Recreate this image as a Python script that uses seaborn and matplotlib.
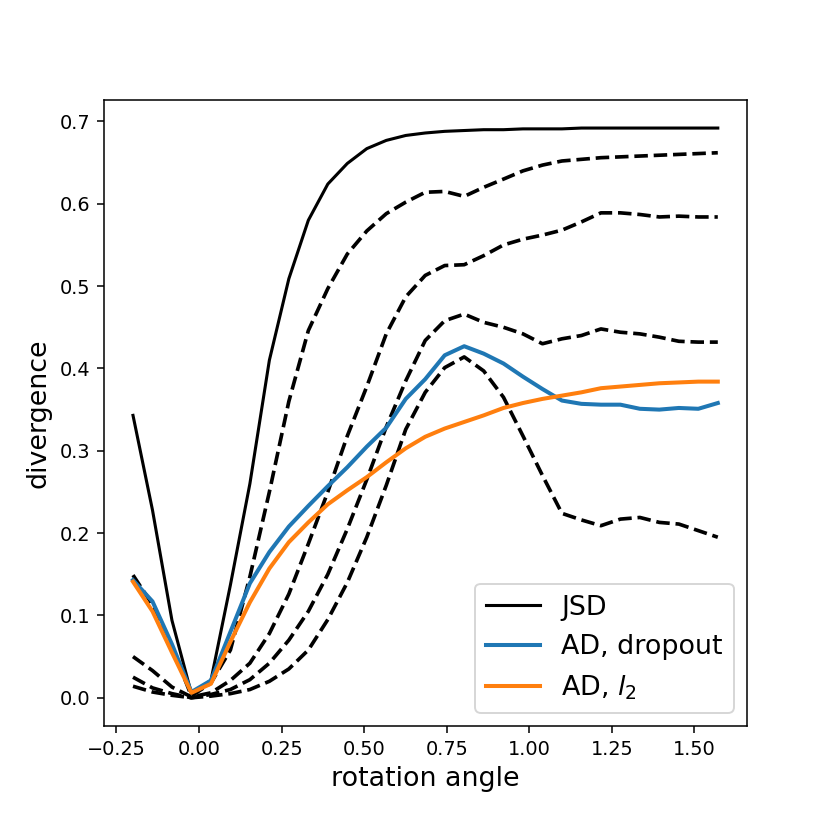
import numpy as np
import matplotlib
matplotlib.use("Agg")
import matplotlib.pyplot as plt
import seaborn as sns

# rotation angles (31 evenly spaced from -0.2 to pi/2)
angles = [-0.2, -0.141, -0.082, -0.023, 0.036, 0.095, 0.154, 0.213, 0.272, 0.331,
          0.390, 0.449, 0.508, 0.567, 0.626, 0.685, 0.744, 0.803, 0.862, 0.922,
          0.981, 1.040, 1.099, 1.158, 1.217, 1.276, 1.335, 1.394, 1.453, 1.512, 1.571]

jsd = [0.343, 0.228, 0.094, 0.005, 0.021, 0.137, 0.26, 0.41, 0.509, 0.58,
       0.624, 0.649, 0.667, 0.677, 0.683, 0.686, 0.688, 0.689, 0.690, 0.690,
       0.691, 0.691, 0.691, 0.692, 0.692, 0.692, 0.692, 0.692, 0.692, 0.692, 0.692]

dash1 = [0.149, 0.113, 0.062, 0.002, 0.018, 0.058, 0.147, 0.25, 0.36, 0.446,
         0.497, 0.539, 0.567, 0.588, 0.602, 0.614, 0.615, 0.609, 0.62, 0.63,
         0.64, 0.647, 0.652, 0.654, 0.656, 0.657, 0.658, 0.659, 0.66, 0.661, 0.662]

dash2 = [0.05, 0.033, 0.013, 0.001, 0.006, 0.021, 0.042, 0.078, 0.126, 0.187,
         0.25, 0.318, 0.378, 0.442, 0.487, 0.513, 0.525, 0.526, 0.537, 0.55,
         0.557, 0.562, 0.568, 0.578, 0.589, 0.589, 0.587, 0.584, 0.585, 0.584, 0.584]

dash3 = [0.025, 0.012, 0.005, 0.0, 0.004, 0.01, 0.022, 0.042, 0.07, 0.105,
         0.15, 0.205, 0.265, 0.329, 0.385, 0.434, 0.458, 0.466, 0.456, 0.45,
         0.442, 0.43, 0.436, 0.44, 0.448, 0.444, 0.442, 0.438, 0.433, 0.432, 0.432]

dash4 = [0.014, 0.007, 0.003, 0.0, 0.002, 0.005, 0.01, 0.02, 0.035, 0.058,
         0.095, 0.14, 0.195, 0.258, 0.326, 0.371, 0.401, 0.414, 0.397, 0.365,
         0.318, 0.27, 0.224, 0.216, 0.209, 0.217, 0.219, 0.213, 0.211, 0.203, 0.195]

ad_dropout = [0.143, 0.117, 0.065, 0.007, 0.021, 0.08, 0.139, 0.177, 0.208, 0.233,
              0.257, 0.28, 0.305, 0.328, 0.363, 0.387, 0.416, 0.427, 0.418, 0.406,
              0.39, 0.375, 0.361, 0.357, 0.356, 0.356, 0.351, 0.35, 0.352, 0.351, 0.358]

ad_l2 = [0.141, 0.105, 0.055, 0.006, 0.017, 0.068, 0.116, 0.157, 0.189, 0.213,
         0.235, 0.252, 0.268, 0.286, 0.303, 0.317, 0.327, 0.335, 0.343, 0.352,
         0.358, 0.363, 0.367, 0.371, 0.376, 0.378, 0.38, 0.382, 0.383, 0.384, 0.384]

fig = plt.figure(figsize=(6, 6), dpi=138.34)
ax = fig.add_subplot(111)
fig.subplots_adjust(left=0.125, right=0.9, top=0.88, bottom=0.125)

x = np.array(angles)
sns.lineplot(x=x, y=jsd, color="black", lw=1.6, ax=ax, label="JSD")
for d in (dash1, dash2, dash3, dash4):
    sns.lineplot(x=x, y=d, color="black", lw=1.9, ls="--", ax=ax)
sns.lineplot(x=x, y=ad_dropout, color="#1f77b4", lw=2.1, ax=ax, label="AD, dropout")
sns.lineplot(x=x, y=ad_l2, color="#ff7f0e", lw=2.1, ax=ax, label="AD, $l_2$")

ax.set_xlabel("rotation angle", fontsize=14)
ax.set_ylabel("divergence", fontsize=14)
ax.tick_params(labelsize=10)
ax.legend(loc="lower right", fontsize=14)

fig.savefig("out.png", dpi=138.34)
